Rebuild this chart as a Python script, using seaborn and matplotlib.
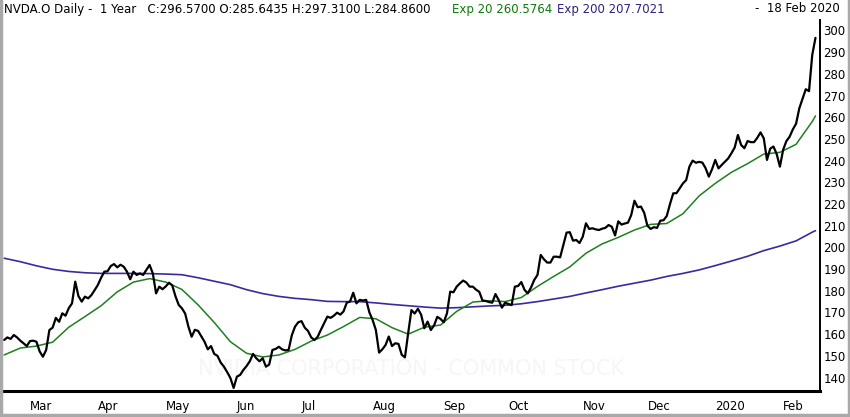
import matplotlib
matplotlib.use("Agg")
import matplotlib.pyplot as plt
import seaborn as sns
import pandas as pd
from matplotlib.lines import Line2D

# sessoes NYSE de 19 fev 2019 a 18 fev 2020
first_day = "2019-02-19"
last_day = "2020-02-18"
nyse_holidays = ["2019-04-19", "2019-05-27", "2019-07-04", "2019-09-02",
                 "2019-11-28", "2019-12-25", "2020-01-01", "2020-01-20",
                 "2020-02-17"]

# fechamento diario
close = [
    157.3, 158.5, 157.8, 159.6, 158.5, 157.0, 155.8, 154.5, 156.8, 157.0,
    156.5, 152.0, 149.6, 152.7, 161.9, 163.0, 167.5, 165.7, 169.6, 168.5,
    172.0, 174.2, 184.2, 177.5, 175.0, 177.3, 176.5, 178.0, 180.3, 182.7,
    186.0, 188.8, 189.0, 191.4, 192.3, 190.8, 192.0, 191.1, 188.8, 185.3,
    188.8, 187.3, 188.0, 187.3, 189.6, 191.9, 188.0, 178.8, 181.9, 180.7,
    182.0, 183.7, 182.5, 177.5, 173.5, 171.9, 169.5, 163.5, 158.8, 162.0,
    161.5, 159.0, 156.5, 153.0, 154.5, 150.9, 150.0, 146.9, 145.0, 142.5,
    139.8, 135.2, 140.4, 141.2, 143.5, 145.3, 147.5, 150.9, 148.9, 147.5,
    148.9, 145.0, 146.0, 152.7, 153.2, 154.2, 153.0, 152.5, 152.7, 159.5,
    163.5, 165.5, 166.0, 163.0, 161.5, 158.5, 157.3, 158.8, 162.0, 165.0,
    168.1, 167.5, 168.5, 169.9, 169.0, 170.5, 174.5, 175.0, 179.1, 174.2,
    175.8, 175.5, 175.8, 170.0, 166.5, 161.9, 151.5, 153.0, 155.0, 158.9,
    154.5, 155.8, 155.5, 150.5, 149.3, 160.5, 171.1, 169.5, 171.7, 169.0,
    162.7, 165.8, 161.9, 164.0, 168.0, 167.0, 165.5, 169.6, 179.6, 179.3,
    181.9, 183.4, 184.7, 183.8, 181.9, 181.9, 180.5, 179.5, 175.5, 175.3,
    174.8, 174.5, 178.5, 175.7, 172.2, 174.5, 173.9, 173.4, 181.9, 182.2,
    184.0, 180.4, 178.8, 181.5, 185.0, 187.3, 196.5, 194.5, 193.0, 193.0,
    195.7, 195.7, 195.4, 201.1, 206.8, 207.0, 203.1, 203.4, 202.0, 204.9,
    211.1, 208.5, 208.8, 208.3, 208.0, 208.6, 209.0, 210.3, 209.5, 205.5,
    212.0, 210.5, 211.0, 211.4, 214.9, 221.5, 218.5, 218.8, 216.0, 210.0,
    208.5, 209.3, 209.0, 212.3, 212.5, 214.5, 220.0, 224.9, 225.0, 227.2,
    229.5, 231.0, 237.2, 240.0, 239.0, 239.4, 239.1, 236.5, 232.6, 236.0,
    240.3, 236.4, 238.0, 239.5, 241.0, 243.4, 246.0, 251.8, 247.2, 245.7,
    249.0, 248.5, 248.5, 250.5, 253.0, 250.3, 240.3, 245.5, 246.5, 243.0,
    237.2, 245.0, 249.0, 251.0, 254.4, 257.0, 264.1, 268.5, 272.9, 272.0,
    288.7, 296.57,
]

# medias exponenciais, uma leitura a cada 5 sessoes + a ultima
ema20 = [
    150.4, 153.6, 154.5, 156.3, 163.2, 168.1, 173.1, 179.5, 184.0, 185.6,
    184.0, 180.6, 173.5, 165.4, 156.5, 151.2, 149.5, 150.4, 153.0, 156.8,
    159.6, 163.5, 167.7, 167.1, 163.0, 160.0, 163.2, 164.2, 170.5, 174.8,
    175.4, 175.0, 176.9, 182.0, 186.6, 191.0, 197.3, 201.6, 204.6, 208.0,
    210.6, 211.0, 215.5, 223.7, 229.5, 234.6, 238.6, 243.0, 243.8, 247.5,
    258.0, 260.58,
]
ema200 = [
    195.0, 193.4, 191.5, 189.9, 188.9, 188.3, 188.0, 188.0, 188.0, 187.9,
    187.7, 187.4, 186.0, 184.4, 182.8, 180.5, 178.7, 177.4, 176.5, 175.9,
    175.1, 175.0, 175.0, 174.4, 173.7, 173.1, 172.5, 172.0, 172.2, 172.6,
    173.0, 173.3, 174.0, 175.0, 176.2, 177.4, 179.0, 180.5, 182.1, 183.5,
    184.9, 186.6, 188.0, 189.6, 191.6, 193.7, 195.9, 198.5, 200.6, 203.0,
    207.0, 207.70,
]

month_labels = ["Mar", "Apr", "May", "Jun", "Jul", "Aug", "Sep", "Oct",
                "Nov", "Dec", "2020", "Feb"]
y_ticks = list(range(140, 301, 10))

header_main = "NVDA.O Daily -  1 Year   C:296.5700 O:285.6435 H:297.3100 L:284.8600"
header_ema20 = "Exp 20 260.5764"
header_ema200 = "Exp 200 207.7021"
header_date = "-  18 Feb 2020"
watermark = "NVIDIA CORPORATION - COMMON STOCK"

sessions = pd.bdate_range(first_day, last_day, freq="C", holidays=nyse_holidays)
df = pd.DataFrame({"date": sessions[:len(close)], "close": close})
df["day"] = range(len(df))

ema_days = list(range(0, len(close) - 1, 5)) + [len(close) - 1]
df_ema = pd.DataFrame({"day": ema_days, "ema20": ema20, "ema200": ema200})

# primeira sessao de cada mes (menos fevereiro de 2019)
month_start = df.groupby(df["date"].dt.to_period("M"))["day"].min().iloc[1:]

sns.set_style("white")
plt.rcParams["font.family"] = ["DejaVu Sans"]

fig = plt.figure(figsize=(8.5, 4.17), dpi=100)
ax = fig.add_axes([3 / 850, 26 / 417, 817 / 850, 371 / 417])

ax.text(0.5, 0.06, watermark, transform=ax.transAxes, ha="center", va="center",
        fontsize=15, color="#f6f6f6", zorder=0)

sns.lineplot(data=df_ema, x="day", y="ema200", ax=ax, color="#3b2a9e", lw=1.2)
sns.lineplot(data=df_ema, x="day", y="ema20", ax=ax, color="#1f7f1f", lw=1.1)
sns.lineplot(data=df, x="day", y="close", ax=ax, color="black", lw=1.6)

ax.set_xlim(-0.35, 252.4)
ax.set_ylim(133.8, 304.8)
ax.set_xlabel("")
ax.set_ylabel("")

ax.set_xticks(month_start.values)
ax.set_xticklabels(month_labels[:len(month_start)], ha="left")
ax.set_yticks(y_ticks)
ax.yaxis.tick_right()
ax.tick_params(axis="x", direction="out", length=4.5, width=2, color="black",
               pad=2, labelsize=8.5, labelcolor="black")
ax.tick_params(axis="y", length=0, pad=2.5, labelsize=8.5, labelcolor="black")

for side in ["left", "top"]:
    ax.spines[side].set_visible(False)
ax.spines["right"].set_color("black")
ax.spines["right"].set_linewidth(1.4)
ax.spines["bottom"].set_color("black")
ax.spines["bottom"].set_linewidth(2.2)

# cabecalho
fig.text(4 / 850, 1 - 9 / 417, header_main, fontsize=8.5, color="black", va="center")
fig.text(452 / 850, 1 - 9 / 417, header_ema20, fontsize=8.5, color="#0c7a0c", va="center")
fig.text(557 / 850, 1 - 9 / 417, header_ema200, fontsize=8.5, color="#2e2080", va="center")
fig.text(840 / 850, 1 - 9 / 417, header_date, fontsize=8.5, color="black",
         va="center", ha="right")

# moldura cinza da janela
for xs, ys in [([0.0015, 0.0015], [0, 1]), ([0.9985, 0.9985], [0, 1]), ([0, 1], [0.004, 0.004])]:
    fig.add_artist(Line2D(xs, ys, transform=fig.transFigure, color="#a9a9a9", lw=2.5))

fig.savefig("out.png", dpi=100)
